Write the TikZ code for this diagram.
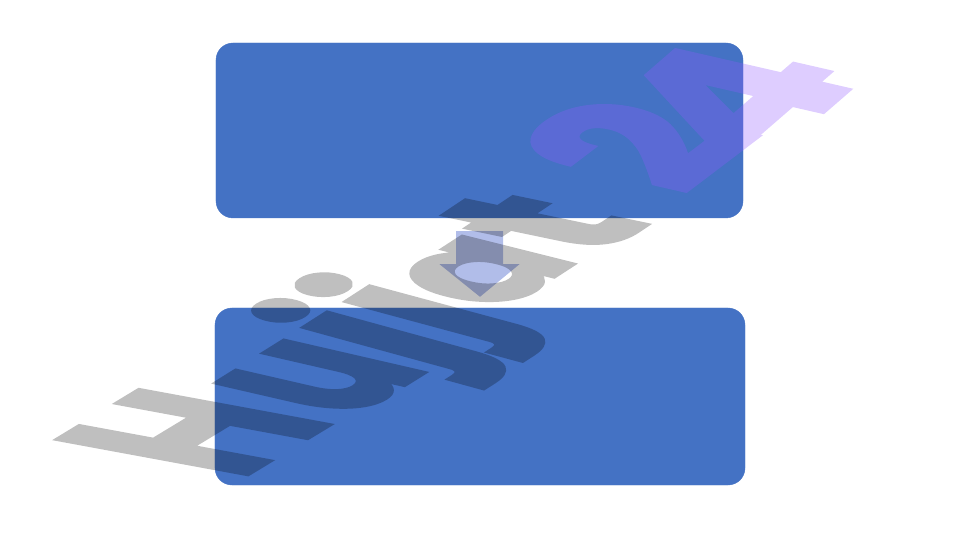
\documentclass[tikz,border=0pt]{standalone}
\usepackage{fontspec}
\newfontfamily\wmfont{Poppins}[BoldFeatures={FakeBold=2.5}]
\usetikzlibrary{calc}
\definecolor{boxblue}{RGB}{68,114,196}
\definecolor{arrowfill}{RGB}{177,189,233}
\definecolor{wmpurple}{RGB}{145,88,255}
\tikzset{
  blockbox/.style={rectangle, draw=boxblue, fill=boxblue, rounded corners=17bp, inner sep=0pt},
  blockarrow/.style={fill=arrowfill, draw=none},
  wmgray/.style={text=black, font=\wmfont\bfseries\fontsize{100}{100}\selectfont,
    inner sep=0pt, anchor=base west, transform shape},
  wmviolet/.style={wmgray, text=wmpurple},
}
\begin{document}
\begin{tikzpicture}[x=1bp,y=-1bp]
\useasboundingbox (0,0) rectangle (961,540);
\node[blockbox, minimum width=527bp, minimum height=175bp] (top) at (479.5,130.5) {};
\node[blockbox, minimum width=530bp, minimum height=177bp] (bottom) at (480,396.5) {};
\coordinate (tip) at ($(bottom.north)+(0,-11)$);
\fill[blockarrow] ($(top.south)+(-23.5,13)$) -- ($(top.south)+(23.5,13)$) -- ($(top.south)+(23.5,46)$)
  -- ($(top.south)+(40,46)$) -- (tip) -- ($(top.south)+(-40,46)$) -- ($(top.south)+(-23.5,46)$) -- cycle;
% watermark
\begin{scope}[transparency group, opacity=0.25]
\begin{scope}[cm={1.37,0.83,-2.71,0.5,(238,480)}]\node[wmgray] (wH) at (0,0) {H};\end{scope}
\begin{scope}[cm={1.25,0.78,-2.51,0.577,(348,420)}]\node[wmgray] (wu) at (0,0) {u};\end{scope}
\begin{scope}[cm={1.41,0.901,-2.34,0.642,(425,369)}]\node[wmgray] (wj1) at (0,0) {j};\end{scope}
\begin{scope}[cm={1.418,0.916,-2.3,0.62,(465,342)}]\node[wmgray] (wj2) at (0,0) {j};\end{scope}
\begin{scope}[cm={1.2,0.78,-2.0,0.5,(500,312)}]\node[wmgray] (wa) at (0,0) {a};\end{scope}
\begin{scope}[cm={1.35,0.9,-2.4,0.5,(597,258)}]\node[wmgray] (wt) at (0,0) {t};\end{scope}
\end{scope}
\begin{scope}[transparency group, opacity=0.3]
\begin{scope}[cm={1.45,1.1,-2.4,0.55,(682,196)}]\node[wmviolet] (w2) at (0,0) {2};\end{scope}
\begin{scope}[cm={1.5,1.3,-2.4,0.55,(765,162)}]\node[wmviolet] (w4) at (0,0) {4};\end{scope}
\end{scope}
\end{tikzpicture}
\end{document}
